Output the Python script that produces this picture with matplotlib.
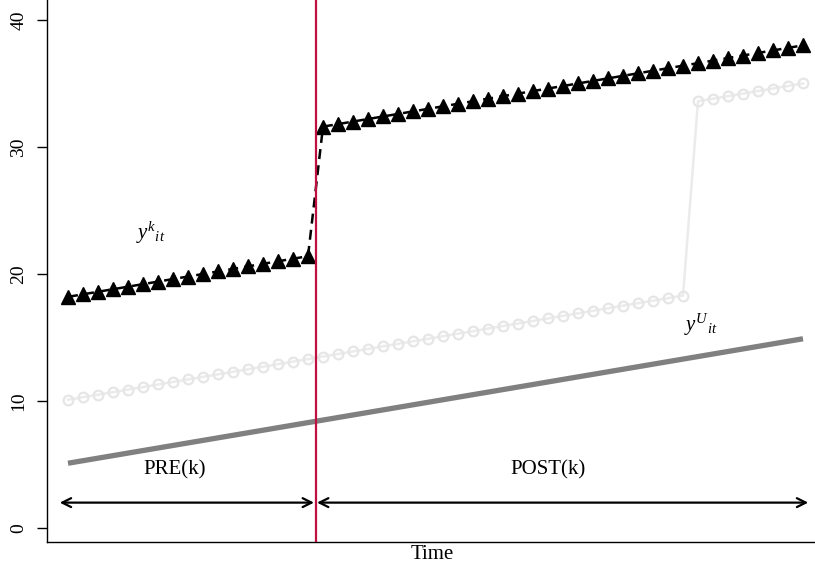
import matplotlib
matplotlib.use('Agg')
import matplotlib.pyplot as plt

# time index
time = list(range(1, 51))

# treated unit k: jumps after the event
y_k = [18.2, 18.4, 18.6, 18.8, 19.0, 19.2, 19.4, 19.6, 19.8, 20.0,
       20.2, 20.4, 20.6, 20.8, 21.0, 21.2, 21.4,
       31.6, 31.8, 32.0, 32.2, 32.4, 32.6, 32.8, 33.0, 33.2,
       33.4, 33.6, 33.8, 34.0, 34.2, 34.4, 34.6, 34.8, 35.0,
       35.2, 35.4, 35.6, 35.8, 36.0, 36.2, 36.4, 36.6, 36.8,
       37.0, 37.2, 37.4, 37.6, 37.8, 38.0]

# late treated unit (light grey circles)
y_late = [10.1, 10.3, 10.5, 10.7, 10.9, 11.1, 11.3, 11.5, 11.7, 11.9,
          12.1, 12.3, 12.5, 12.7, 12.9, 13.1, 13.3, 13.5, 13.7, 13.9,
          14.1, 14.3, 14.5, 14.7, 14.9, 15.1, 15.3, 15.5, 15.7, 15.9,
          16.1, 16.3, 16.5, 16.7, 16.9, 17.1, 17.3, 17.5, 17.7, 17.9,
          18.1, 18.3,
          33.6, 33.8, 34.0, 34.2, 34.4, 34.6, 34.8, 35.0]

# untreated unit U (straight line)
time_u = [1, 50]
y_u = [5.1, 14.9]

event_t = 17.5
yticks = [0, 10, 20, 30, 40]

plt.rcParams['font.family'] = ['Liberation Serif', 'DejaVu Serif']
plt.rcParams['mathtext.fontset'] = 'custom'
plt.rcParams['mathtext.it'] = 'Liberation Serif:italic'
plt.rcParams['mathtext.rm'] = 'Liberation Serif'

fig = plt.figure(figsize=(8.15, 5.67), dpi=100)
ax = fig.add_axes([47 / 815, 1 - 542 / 567, 1 - 47 / 815, 542 / 567])

ax.plot(time, y_late, color='#EBEBEB', lw=1.8, marker='o', ms=7,
        mfc='none', mec='#E6E6E6', mew=1.6, zorder=2)
ax.plot(time_u, y_u, color='#808080', lw=3.8, solid_capstyle='butt', zorder=2)
ax.plot(time, y_k, color='black', lw=1.8, ls=(0, (4, 2.5)), marker='^', ms=10,
        mfc='black', mec='black', zorder=3)
ax.axvline(event_t, color='#C01040', lw=1.6, zorder=4)

arrow = dict(arrowstyle='<->', lw=1.6, color='black', shrinkA=0, shrinkB=0,
             mutation_scale=16)
ax.annotate('', xy=(0.45, 2), xytext=(event_t - 0.1, 2), arrowprops=arrow)
ax.annotate('', xy=(event_t + 0.1, 2), xytext=(50.35, 2), arrowprops=arrow)

ax.text(8.1, 4.6, 'PRE(k)', ha='center', va='center', fontsize=15)
ax.text(33.0, 4.6, 'POST(k)', ha='center', va='center', fontsize=15)
ax.text(6.5, 23.2, r'$y^{k}{}_{it}$', ha='center', va='center', fontsize=15)
ax.text(43.2, 16.0, r'$y^{U}{}_{it}$', ha='center', va='center', fontsize=15)

ax.set_xlim(-0.4, 50.8)
ax.set_ylim(-1.1, 41.57)
ax.set_yticks(yticks)
ax.set_yticklabels([str(v) for v in yticks], rotation=90, va='center', fontsize=14)
ax.set_xticks([])
ax.tick_params(axis='y', length=7, width=1, pad=7)
ax.spines['top'].set_visible(False)
ax.spines['right'].set_visible(False)
ax.spines['left'].set_linewidth(1)
ax.spines['bottom'].set_linewidth(1)
ax.set_xlabel('Time', fontsize=15, labelpad=0)
ax.xaxis.set_label_coords((432 - 47) / (815 - 47), -0.006)
ax.xaxis.label.set_va('top')

fig.savefig('out.png', dpi=100)
